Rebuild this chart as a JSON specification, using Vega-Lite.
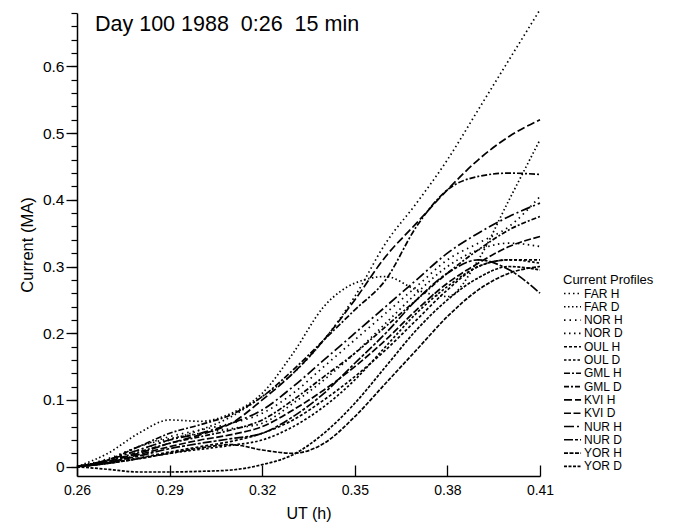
{
  "$schema": "https://vega.github.io/schema/vega-lite/v6.json",
  "autosize": {"type": "none"},
  "padding": {"left": 77, "top": 13, "right": 135, "bottom": 49},
  "width": 463,
  "height": 463,
  "title": {"text": "Day 100 1988\u00a0 0:26\u00a0 15 min", "anchor": "start", "frame": "group", "dx": 18, "offset": -29, "fontSize": 21.5, "fontWeight": "normal", "font": "Liberation Sans", "color": "black"},
  "data": {"values": [
    {"s":"FAR H","t":0.26,"I":0},{"s":"FAR H","t":0.27,"I":0.01},{"s":"FAR H","t":0.28,"I":0.025},{"s":"FAR H","t":0.29,"I":0.04},{"s":"FAR H","t":0.30,"I":0.055},{"s":"FAR H","t":0.31,"I":0.075},{"s":"FAR H","t":0.32,"I":0.105},{"s":"FAR H","t":0.33,"I":0.14},{"s":"FAR H","t":0.34,"I":0.19},{"s":"FAR H","t":0.35,"I":0.255},{"s":"FAR H","t":0.36,"I":0.335},{"s":"FAR H","t":0.37,"I":0.395},{"s":"FAR H","t":0.38,"I":0.46},{"s":"FAR H","t":0.39,"I":0.535},{"s":"FAR H","t":0.40,"I":0.61},{"s":"FAR H","t":0.41,"I":0.685},
    {"s":"FAR D","t":0.26,"I":0},{"s":"FAR D","t":0.27,"I":0.02},{"s":"FAR D","t":0.28,"I":0.05},{"s":"FAR D","t":0.29,"I":0.07},{"s":"FAR D","t":0.30,"I":0.068},{"s":"FAR D","t":0.31,"I":0.08},{"s":"FAR D","t":0.32,"I":0.11},{"s":"FAR D","t":0.33,"I":0.17},{"s":"FAR D","t":0.34,"I":0.24},{"s":"FAR D","t":0.35,"I":0.275},{"s":"FAR D","t":0.36,"I":0.285},{"s":"FAR D","t":0.37,"I":0.265},{"s":"FAR D","t":0.38,"I":0.255},{"s":"FAR D","t":0.39,"I":0.31},{"s":"FAR D","t":0.40,"I":0.4},{"s":"FAR D","t":0.41,"I":0.49},
    {"s":"NOR H","t":0.26,"I":0},{"s":"NOR H","t":0.27,"I":0.012},{"s":"NOR H","t":0.28,"I":0.03},{"s":"NOR H","t":0.29,"I":0.045},{"s":"NOR H","t":0.30,"I":0.055},{"s":"NOR H","t":0.31,"I":0.065},{"s":"NOR H","t":0.32,"I":0.08},{"s":"NOR H","t":0.33,"I":0.11},{"s":"NOR H","t":0.34,"I":0.15},{"s":"NOR H","t":0.35,"I":0.19},{"s":"NOR H","t":0.36,"I":0.23},{"s":"NOR H","t":0.37,"I":0.27},{"s":"NOR H","t":0.38,"I":0.31},{"s":"NOR H","t":0.39,"I":0.335},{"s":"NOR H","t":0.40,"I":0.36},{"s":"NOR H","t":0.41,"I":0.405},
    {"s":"NOR D","t":0.26,"I":0},{"s":"NOR D","t":0.27,"I":0.01},{"s":"NOR D","t":0.28,"I":0.03},{"s":"NOR D","t":0.29,"I":0.042},{"s":"NOR D","t":0.30,"I":0.05},{"s":"NOR D","t":0.31,"I":0.057},{"s":"NOR D","t":0.32,"I":0.065},{"s":"NOR D","t":0.33,"I":0.095},{"s":"NOR D","t":0.34,"I":0.13},{"s":"NOR D","t":0.35,"I":0.17},{"s":"NOR D","t":0.36,"I":0.215},{"s":"NOR D","t":0.37,"I":0.26},{"s":"NOR D","t":0.38,"I":0.3},{"s":"NOR D","t":0.39,"I":0.325},{"s":"NOR D","t":0.40,"I":0.335},{"s":"NOR D","t":0.41,"I":0.33},
    {"s":"OUL H","t":0.26,"I":0},{"s":"OUL H","t":0.27,"I":0.005},{"s":"OUL H","t":0.28,"I":0.013},{"s":"OUL H","t":0.29,"I":0.022},{"s":"OUL H","t":0.30,"I":0.03},{"s":"OUL H","t":0.31,"I":0.038},{"s":"OUL H","t":0.32,"I":0.05},{"s":"OUL H","t":0.33,"I":0.07},{"s":"OUL H","t":0.34,"I":0.1},{"s":"OUL H","t":0.35,"I":0.135},{"s":"OUL H","t":0.36,"I":0.175},{"s":"OUL H","t":0.37,"I":0.22},{"s":"OUL H","t":0.38,"I":0.265},{"s":"OUL H","t":0.39,"I":0.3},{"s":"OUL H","t":0.40,"I":0.31},{"s":"OUL H","t":0.41,"I":0.31},
    {"s":"OUL D","t":0.26,"I":0},{"s":"OUL D","t":0.27,"I":0.005},{"s":"OUL D","t":0.28,"I":0.012},{"s":"OUL D","t":0.29,"I":0.02},{"s":"OUL D","t":0.30,"I":0.026},{"s":"OUL D","t":0.31,"I":0.032},{"s":"OUL D","t":0.32,"I":0.04},{"s":"OUL D","t":0.33,"I":0.06},{"s":"OUL D","t":0.34,"I":0.09},{"s":"OUL D","t":0.35,"I":0.13},{"s":"OUL D","t":0.36,"I":0.18},{"s":"OUL D","t":0.37,"I":0.23},{"s":"OUL D","t":0.38,"I":0.27},{"s":"OUL D","t":0.39,"I":0.3},{"s":"OUL D","t":0.40,"I":0.31},{"s":"OUL D","t":0.41,"I":0.305},
    {"s":"GML H","t":0.26,"I":0},{"s":"GML H","t":0.27,"I":0.01},{"s":"GML H","t":0.28,"I":0.03},{"s":"GML H","t":0.29,"I":0.05},{"s":"GML H","t":0.30,"I":0.063},{"s":"GML H","t":0.31,"I":0.078},{"s":"GML H","t":0.32,"I":0.105},{"s":"GML H","t":0.33,"I":0.145},{"s":"GML H","t":0.34,"I":0.19},{"s":"GML H","t":0.35,"I":0.235},{"s":"GML H","t":0.36,"I":0.28},{"s":"GML H","t":0.37,"I":0.36},{"s":"GML H","t":0.38,"I":0.415},{"s":"GML H","t":0.39,"I":0.435},{"s":"GML H","t":0.40,"I":0.44},{"s":"GML H","t":0.41,"I":0.438},
    {"s":"GML D","t":0.26,"I":0},{"s":"GML D","t":0.27,"I":0.008},{"s":"GML D","t":0.28,"I":0.022},{"s":"GML D","t":0.29,"I":0.035},{"s":"GML D","t":0.30,"I":0.045},{"s":"GML D","t":0.31,"I":0.055},{"s":"GML D","t":0.32,"I":0.07},{"s":"GML D","t":0.33,"I":0.1},{"s":"GML D","t":0.34,"I":0.135},{"s":"GML D","t":0.35,"I":0.17},{"s":"GML D","t":0.36,"I":0.21},{"s":"GML D","t":0.37,"I":0.25},{"s":"GML D","t":0.38,"I":0.29},{"s":"GML D","t":0.39,"I":0.325},{"s":"GML D","t":0.40,"I":0.355},{"s":"GML D","t":0.41,"I":0.375},
    {"s":"KVI H","t":0.26,"I":0},{"s":"KVI H","t":0.27,"I":0.008},{"s":"KVI H","t":0.28,"I":0.02},{"s":"KVI H","t":0.29,"I":0.035},{"s":"KVI H","t":0.30,"I":0.048},{"s":"KVI H","t":0.31,"I":0.065},{"s":"KVI H","t":0.32,"I":0.1},{"s":"KVI H","t":0.33,"I":0.14},{"s":"KVI H","t":0.34,"I":0.19},{"s":"KVI H","t":0.35,"I":0.25},{"s":"KVI H","t":0.36,"I":0.315},{"s":"KVI H","t":0.37,"I":0.365},{"s":"KVI H","t":0.38,"I":0.415},{"s":"KVI H","t":0.39,"I":0.46},{"s":"KVI H","t":0.40,"I":0.495},{"s":"KVI H","t":0.41,"I":0.52},
    {"s":"KVI D","t":0.26,"I":0},{"s":"KVI D","t":0.27,"I":0.006},{"s":"KVI D","t":0.28,"I":0.018},{"s":"KVI D","t":0.29,"I":0.03},{"s":"KVI D","t":0.30,"I":0.04},{"s":"KVI D","t":0.31,"I":0.048},{"s":"KVI D","t":0.32,"I":0.06},{"s":"KVI D","t":0.33,"I":0.085},{"s":"KVI D","t":0.34,"I":0.115},{"s":"KVI D","t":0.35,"I":0.15},{"s":"KVI D","t":0.36,"I":0.19},{"s":"KVI D","t":0.37,"I":0.235},{"s":"KVI D","t":0.38,"I":0.275},{"s":"KVI D","t":0.39,"I":0.305},{"s":"KVI D","t":0.40,"I":0.33},{"s":"KVI D","t":0.41,"I":0.345},
    {"s":"NUR H","t":0.26,"I":0},{"s":"NUR H","t":0.27,"I":0.01},{"s":"NUR H","t":0.28,"I":0.025},{"s":"NUR H","t":0.29,"I":0.04},{"s":"NUR H","t":0.30,"I":0.05},{"s":"NUR H","t":0.31,"I":0.065},{"s":"NUR H","t":0.32,"I":0.085},{"s":"NUR H","t":0.33,"I":0.12},{"s":"NUR H","t":0.34,"I":0.16},{"s":"NUR H","t":0.35,"I":0.2},{"s":"NUR H","t":0.36,"I":0.24},{"s":"NUR H","t":0.37,"I":0.28},{"s":"NUR H","t":0.38,"I":0.32},{"s":"NUR H","t":0.39,"I":0.35},{"s":"NUR H","t":0.40,"I":0.375},{"s":"NUR H","t":0.41,"I":0.395},
    {"s":"NUR D","t":0.26,"I":0},{"s":"NUR D","t":0.27,"I":0.006},{"s":"NUR D","t":0.28,"I":0.016},{"s":"NUR D","t":0.29,"I":0.027},{"s":"NUR D","t":0.30,"I":0.035},{"s":"NUR D","t":0.31,"I":0.042},{"s":"NUR D","t":0.32,"I":0.05},{"s":"NUR D","t":0.33,"I":0.075},{"s":"NUR D","t":0.34,"I":0.11},{"s":"NUR D","t":0.35,"I":0.155},{"s":"NUR D","t":0.36,"I":0.2},{"s":"NUR D","t":0.37,"I":0.25},{"s":"NUR D","t":0.38,"I":0.29},{"s":"NUR D","t":0.39,"I":0.31},{"s":"NUR D","t":0.40,"I":0.295},{"s":"NUR D","t":0.41,"I":0.26},
    {"s":"YOR H","t":0.26,"I":0},{"s":"YOR H","t":0.27,"I":0.005},{"s":"YOR H","t":0.28,"I":0.012},{"s":"YOR H","t":0.29,"I":0.02},{"s":"YOR H","t":0.30,"I":0.028},{"s":"YOR H","t":0.31,"I":0.033},{"s":"YOR H","t":0.32,"I":0.025},{"s":"YOR H","t":0.33,"I":0.02},{"s":"YOR H","t":0.34,"I":0.035},{"s":"YOR H","t":0.35,"I":0.075},{"s":"YOR H","t":0.36,"I":0.125},{"s":"YOR H","t":0.37,"I":0.175},{"s":"YOR H","t":0.38,"I":0.225},{"s":"YOR H","t":0.39,"I":0.265},{"s":"YOR H","t":0.40,"I":0.29},{"s":"YOR H","t":0.41,"I":0.3},
    {"s":"YOR D","t":0.26,"I":0},{"s":"YOR D","t":0.27,"I":-0.004},{"s":"YOR D","t":0.28,"I":-0.008},{"s":"YOR D","t":0.29,"I":-0.008},{"s":"YOR D","t":0.30,"I":-0.007},{"s":"YOR D","t":0.31,"I":-0.005},{"s":"YOR D","t":0.32,"I":0.003},{"s":"YOR D","t":0.33,"I":0.018},{"s":"YOR D","t":0.34,"I":0.05},{"s":"YOR D","t":0.35,"I":0.095},{"s":"YOR D","t":0.36,"I":0.15},{"s":"YOR D","t":0.37,"I":0.205},{"s":"YOR D","t":0.38,"I":0.25},{"s":"YOR D","t":0.39,"I":0.283},{"s":"YOR D","t":0.40,"I":0.3},{"s":"YOR D","t":0.41,"I":0.295}
  ]},
  "encoding": {
    "x": {"field": "t", "type": "quantitative",
      "scale": {"domain": [0.26, 0.41], "nice": false, "zero": false},
      "axis": {"title": "UT (h)", "values": [0.26, 0.29, 0.32, 0.35, 0.38, 0.41], "format": ".2f",
        "tickSize": -11, "labelPadding": 18, "labelFontSize": 14, "labelFlush": false, "labelOverlap": false,
        "titleFontSize": 16, "titleX": 231.5, "titleY": 42, "titleBaseline": "alphabetic", "titleAlign": "center",
        "domainWidth": 1.5, "tickWidth": 1.3}}
  },
  "layer": [
    {
      "mark": {"type": "line", "interpolate": "monotone", "strokeWidth": 1.7, "color": "black", "clip": false},
      "encoding": {
        "y": {"field": "I", "type": "quantitative",
          "scale": {"domain": [-0.014, 0.68], "nice": false, "zero": false},
          "axis": {"title": "Current (MA)", "values": [0, 0.1, 0.2, 0.3, 0.4, 0.5, 0.6], "format": "~g",
            "tickSize": 11, "labelPadding": 2, "labelFontSize": 15.5,
            "titleFontSize": 16.5, "titleX": -45, "titleY": 231.5, "titleAngle": -90, "titleBaseline": "alphabetic", "titleAlign": "center",
            "domainWidth": 1.5, "tickWidth": 1.3}},
        "strokeDash": {"field": "s", "type": "nominal",
          "scale": {
            "domain": ["FAR H", "FAR D", "NOR H", "NOR D", "OUL H", "OUL D", "GML H", "GML D", "KVI H", "KVI D", "NUR H", "NUR D", "YOR H", "YOR D"],
            "range": [[1.5, 3], [1.5, 2.5], [1.5, 4], [1.5, 3.5], [3, 2], [2.5, 2], [6, 2, 2, 2], [5, 2, 2, 2], [8, 3], [7, 2.5], [10, 3, 2, 3], [9, 2, 3, 2], [4, 1.5], [3, 1.5]]},
          "legend": {"title": "Current Profiles", "orient": "none", "legendX": 486, "legendY": 261, "direction": "vertical", "columns": 1,
            "padding": 0, "titleFontSize": 13, "titleFontWeight": "normal", "titlePadding": 0,
            "labelFontSize": 12, "labelOffset": 8, "rowPadding": 0.3, "clipHeight": 13,
            "symbolType": "M-1,0H2.1", "symbolSize": 121, "symbolStrokeWidth": 1.6, "symbolStrokeColor": "black", "symbolFillColor": "transparent"}}
      }
    },
    {
      "mark": {"type": "point", "opacity": 0},
      "encoding": {
        "y": {"field": "I", "type": "quantitative",
          "scale": {"domain": [-0.014, 0.68], "nice": false, "zero": false},
          "axis": {"orient": "left", "title": null, "labels": false, "domain": false, "tickSize": 6, "tickWidth": 1.2,
            "values": [0, 0.02, 0.04, 0.06, 0.08, 0.1, 0.12, 0.14, 0.16, 0.18, 0.2, 0.22, 0.24, 0.26, 0.28, 0.3, 0.32, 0.34, 0.36, 0.38, 0.4, 0.42, 0.44, 0.46, 0.48, 0.5, 0.52, 0.54, 0.56, 0.58, 0.6, 0.62, 0.64, 0.66, 0.68]}}
      }
    }
  ],
  "resolve": {"axis": {"y": "independent"}},
  "config": {
    "font": "Liberation Sans",
    "view": {"stroke": null},
    "axis": {"grid": false, "domainColor": "black", "tickColor": "black", "labelColor": "black", "titleColor": "black", "titleFontWeight": "normal", "labelFont": "Liberation Sans", "titleFont": "Liberation Sans"},
    "legend": {"labelColor": "black", "titleColor": "black", "labelFont": "Liberation Sans", "titleFont": "Liberation Sans"}
  }
}
